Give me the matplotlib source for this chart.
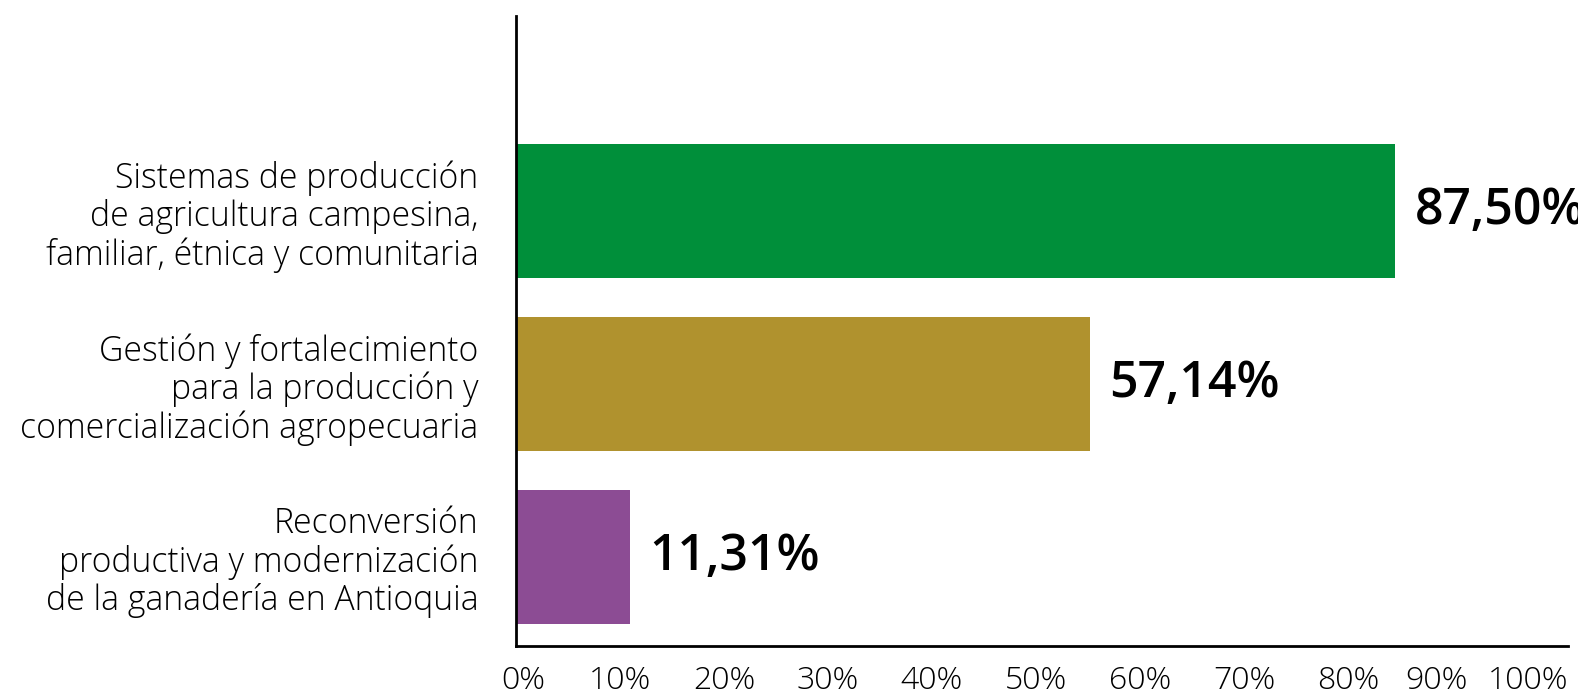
import matplotlib.pyplot as plt
import matplotlib.transforms as mtransforms
import numpy as np

# data (bottom to top)
categories = [
    "Reconversión\nproductiva y modernización\nde la ganadería en Antioquia",
    "Gestión y fortalecimiento\npara la producción y\ncomercialización agropecuaria",
    "Sistemas de producción\nde agricultura campesina,\nfamiliar, étnica y comunitaria",
]
values = [11.31, 57.14, 87.50]
value_labels = ["11,31%", "57,14%", "87,50%"]
colors = ["#8C4C94", "#B0922E", "#008F3A"]
tick_values = np.arange(0, 101, 10)
tick_labels = [f"{v}%" for v in tick_values]

plt.rcParams['font.family'] = ['Open Sans', 'DejaVu Sans']

fig = plt.figure(figsize=(15.78, 6.98), dpi=100)
ax = fig.add_axes([516 / 1578, 1 - 646 / 698, 1052 / 1578, 630 / 698])

y = np.arange(len(categories))
ax.barh(y, values, height=0.77, color=colors)

for yi, v, lab in zip(y, values, value_labels):
    ax.annotate(lab, (v, yi), xytext=(14, 0), textcoords='offset points',
                va='center', ha='left', fontsize=36, fontweight='semibold',
                color='black', annotation_clip=False)

ax.set_xlim(0, 104.7)
ax.set_ylim(-0.514, 3.127)

ax.set_yticks(y)
ax.set_yticklabels(categories, fontsize=24.3, fontweight='light', linespacing=1.12)
# tick labels in the original sit on a slightly wider spacing than the bars
ax.set_xticks(tick_values * 1.035)
ax.set_xticklabels(tick_labels, fontsize=23, fontweight='light')
ax.tick_params(axis='y', length=0, pad=27)
ax.tick_params(axis='x', length=0, pad=14)

nudges = {0: 7, 9: -16, 10: -28}
for i, lbl in enumerate(ax.get_xticklabels()):
    if i in nudges:
        lbl.set_transform(lbl.get_transform() +
                          mtransforms.ScaledTranslation(nudges[i] / 100, 0, fig.dpi_scale_trans))

for s in ['top', 'right']:
    ax.spines[s].set_visible(False)
ax.spines['left'].set_linewidth(2)
ax.spines['bottom'].set_linewidth(2)

fig.savefig('out.png', dpi=100)
